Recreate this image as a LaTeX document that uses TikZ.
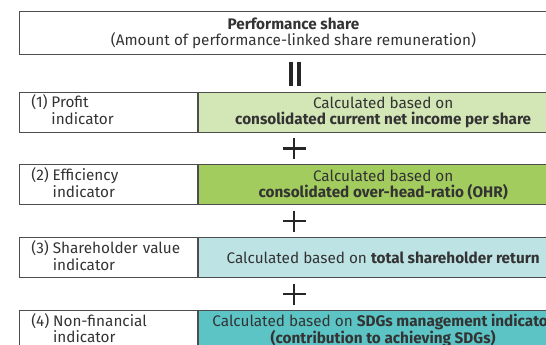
\documentclass[tikz,border=0pt]{standalone}
\usepackage{fontspec}
\setmainfont{Fira Sans}
\usepackage{xcolor}
\definecolor{boxline}{HTML}{4D4D4D}
\definecolor{txt}{HTML}{333333}
\definecolor{profitgreen}{HTML}{D3E6B6}
\definecolor{ohrgreen}{HTML}{A3CC5E}
\definecolor{tsrblue}{HTML}{BDE3E5}
\definecolor{sdgteal}{HTML}{5CC4C5}
\newcommand{\indlabel}[3]{\begin{tabular}{@{}l@{\hspace{.25em}}l@{}}#1&#2\\&#3\end{tabular}}

\begin{document}
\begin{tikzpicture}[x=1pt,y=-1pt,font=\fontsize{15.3}{16}\selectfont,text=txt,
		box/.style={draw=boxline, line width=0.8pt, anchor=north west, inner sep=0pt},
		indbox/.style={box, text width=154pt, inner xsep=12pt, minimum height=40pt, align=left},
		calcbox/.style={box, minimum width=370pt, minimum height=40pt, align=center},
		plussign/.style={line width=2.6pt, black!85}]
		\useasboundingbox (0,0) rectangle (546,345);
		\clip (0,0) rectangle (546,345);
		
		\node[box, minimum width=548pt, minimum height=43pt, align=center] (perf) at (19,11) {\textbf{Performance share}\\(Amount of performance-linked share remuneration)};
		
		\node[indbox] (ind1) at (19,91.7) {\indlabel{(1)}{Profit}{indicator}};
		\node[calcbox, fill=profitgreen] (calc1) at (ind1.north east) {Calculated based on\\\textbf{consolidated current net income per share}};
		
		\node[indbox] (ind2) at (19,164.3) {\indlabel{(2)}{Efficiency}{indicator}};
		\node[calcbox, fill=ohrgreen] (calc2) at (ind2.north east) {Calculated based on\\\textbf{consolidated over-head-ratio (OHR)}};
		
		\node[indbox] (ind3) at (19,237.3) {\indlabel{(3)}{Shareholder value}{indicator}};
		\node[calcbox, fill=tsrblue] (calc3) at (ind3.north east) {Calculated based on \textbf{total shareholder return}};
		
		\node[indbox] (ind4) at (19,310) {\indlabel{(4)}{Non-financial}{indicator}};
		\node[calcbox, fill=sdgteal] (calc4) at (ind4.north east) {Calculated based on \textbf{SDGs management indicator}\\\textbf{(contribution to achieving SDGs)}};
		
		% equals and plus signs
		\coordinate (eq) at (295,74);
		\coordinate (p1) at (294,148.5);
		\coordinate (p2) at (294,221);
		\coordinate (p3) at (294,294);
		
		\draw[line width=3.6pt, black!85] (eq) ++(-3.8,-12) -- ++(0,24) (eq) ++(3.8,-12) -- ++(0,24);
		\draw[plussign] (p1) ++(-11.5,0) -- ++(23,0) (p1) ++(0,-10.5) -- ++(0,21);
		\draw[plussign] (p2) ++(-11.5,0) -- ++(23,0) (p2) ++(0,-10.5) -- ++(0,21);
		\draw[plussign] (p3) ++(-11.5,0) -- ++(23,0) (p3) ++(0,-10.5) -- ++(0,21);
		
\end{tikzpicture}
\end{document}
